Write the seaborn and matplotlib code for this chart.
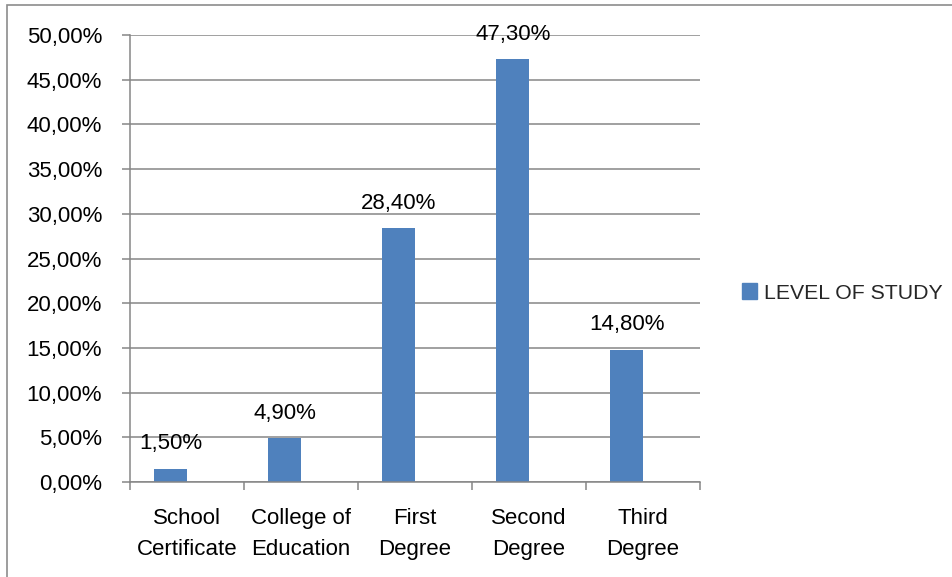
import matplotlib
matplotlib.use("Agg")
import matplotlib.pyplot as plt
import matplotlib.patches as mpatches
from matplotlib.ticker import FuncFormatter, FixedLocator
import seaborn as sns
import pandas as pd

categories = ["School\nCertificate", "College of\nEducation", "First\nDegree", "Second\nDegree", "Third\nDegree"]
values = [1.5, 4.9, 28.4, 47.3, 14.8]
series_name = "LEVEL OF STUDY"
y_ticks = [0, 5, 10, 15, 20, 25, 30, 35, 40, 45, 50]

sns.set_theme(style="white")
plt.rcParams["font.family"] = ["Liberation Sans", "DejaVu Sans"]

BLUE = "#4F81BD"
GRID = "#868686"

df = pd.DataFrame({
    "cat": categories + categories,
    "series": [series_name] * len(categories) + ["_empty"] * len(categories),
    "val": values + [float("nan")] * len(categories),
})

fig = plt.figure(figsize=(9.53, 5.77), dpi=100)
ax = fig.add_axes([130 / 953, 1 - 482 / 577, 570 / 953, 447 / 577])

sns.barplot(data=df, x="cat", y="val", hue="series", hue_order=[series_name, "_empty"],
            palette=[BLUE, BLUE], width=0.571, dodge=True, ax=ax, legend=False,
            errorbar=None, saturation=1, linewidth=0)

ax.set_ylim(0, 50)
ax.set_xlim(-0.5, len(categories) - 0.5)
ax.yaxis.set_major_locator(FixedLocator(y_ticks))
ax.yaxis.set_major_formatter(FuncFormatter(lambda v, p: f"{v:.2f}".replace(".", ",") + "%"))
ax.grid(axis="y", color=GRID, linewidth=1.1)
ax.set_axisbelow(True)
ax.set_xlabel("")
ax.set_ylabel("")

for s in ["top", "right"]:
    ax.spines[s].set_visible(False)
for s in ["left", "bottom"]:
    ax.spines[s].set_color(GRID)
    ax.spines[s].set_linewidth(1.1)

ax.tick_params(axis="y", which="major", length=6, width=1.1, color=GRID, pad=14,
               labelsize=16, labelcolor="black", left=True)
ax.tick_params(axis="x", which="major", length=0, pad=19, labelsize=16, labelcolor="black")
ax.set_xticks(range(len(categories)))
ax.set_xticklabels(categories, linespacing=1.6)
ax.xaxis.set_minor_locator(FixedLocator([i - 0.5 for i in range(len(categories) + 1)]))
ax.tick_params(axis="x", which="minor", length=6, width=1.1, color=GRID, bottom=True)

cont = ax.containers[0]
ax.bar_label(cont, labels=[f"{v:.2f}".replace(".", ",") + "%" for v in values],
             padding=10.5, fontsize=16, color="black", clip_on=False)

handle = mpatches.Patch(color=BLUE, label=series_name)
fig.legend(handles=[handle], loc="center left", bbox_to_anchor=(742 / 953, 1 - 293 / 577),
           frameon=False, fontsize=15.3, handlelength=0.72, handleheight=0.72,
           handletextpad=0.3, borderpad=0, borderaxespad=0)

border = mpatches.Rectangle((7 / 953, -0.1), 1.2, 1.1 - 5 / 577, transform=fig.transFigure,
                            fill=False, edgecolor="#8c8c8c", linewidth=1.2)
fig.patches.append(border)

fig.savefig("out.png", dpi=100)
